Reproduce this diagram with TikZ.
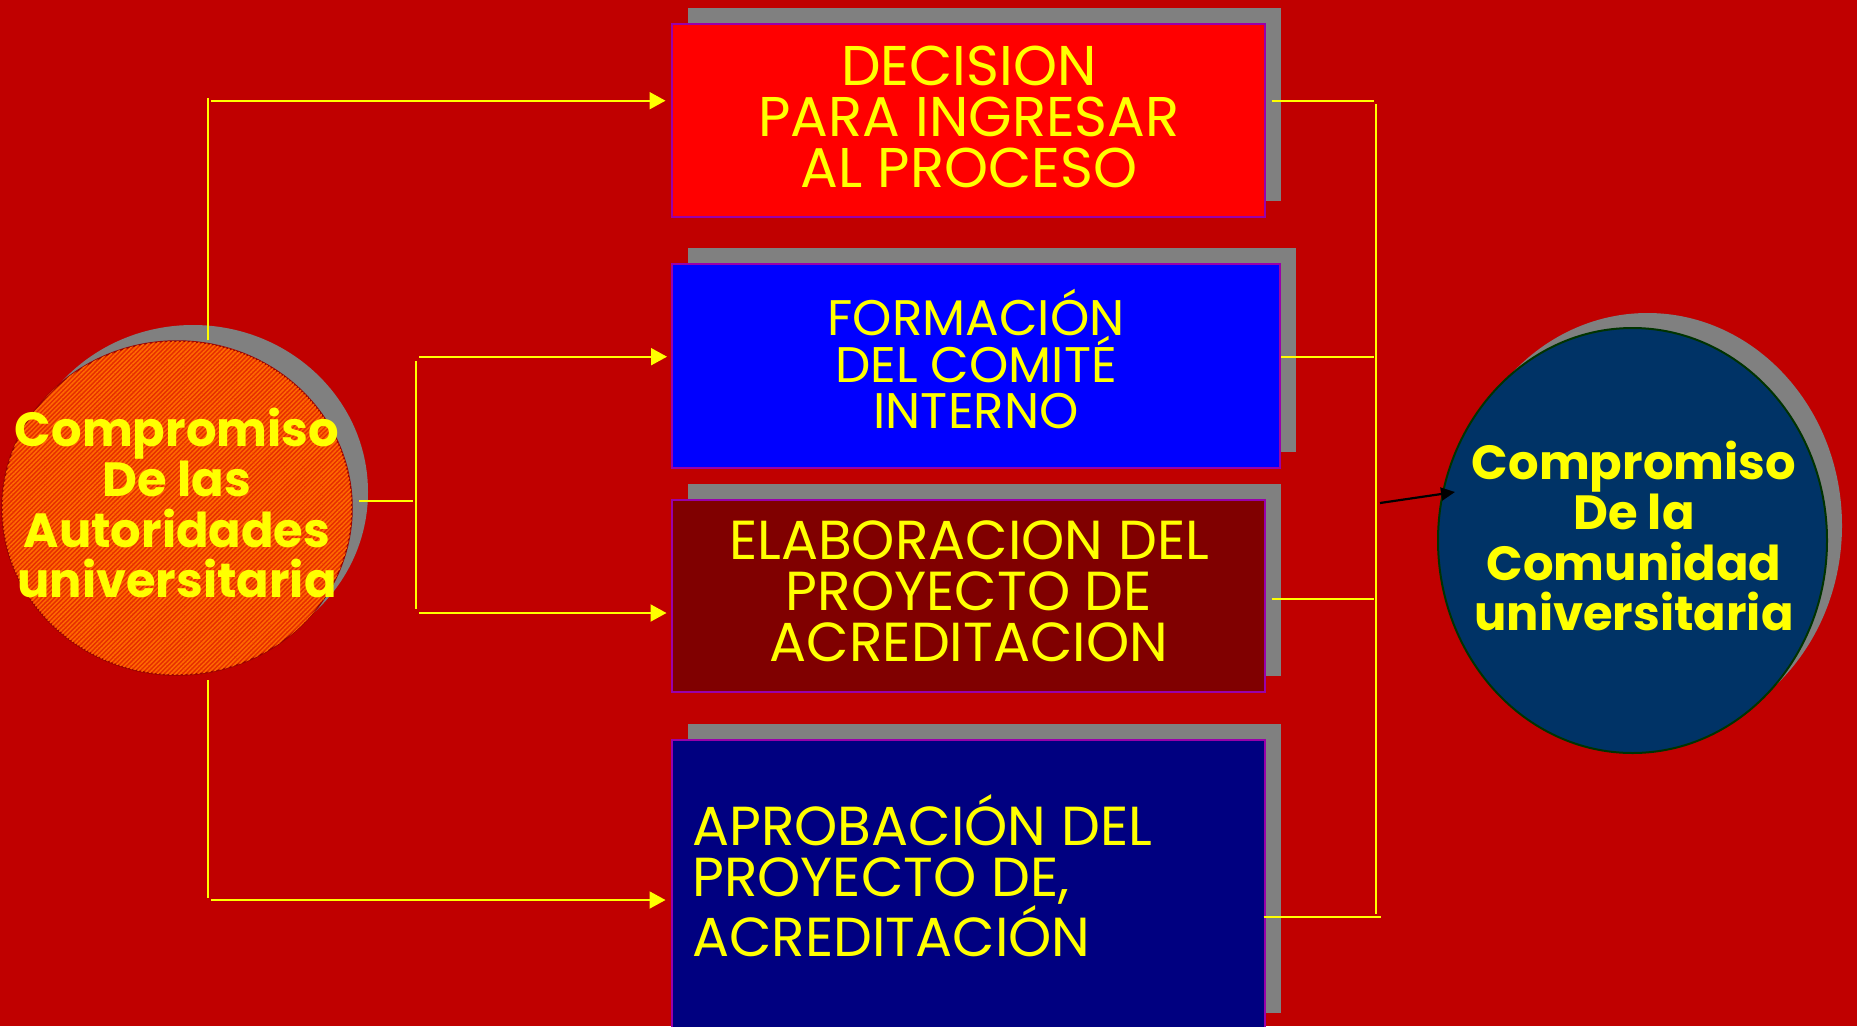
\documentclass[tikz,border=0pt]{standalone}
\usepackage{fontspec}
\setmainfont{Poppins}
\usetikzlibrary{arrows.meta,shadows,shapes.geometric,patterns.meta,calc}
\definecolor{bg}{HTML}{C00000}
\definecolor{shadowgray}{HTML}{808080}
\definecolor{ylw}{HTML}{FFFF00}
\definecolor{boxborder}{HTML}{9900AA}
\definecolor{boxA}{HTML}{FF0000}
\definecolor{boxB}{HTML}{0000FF}
\definecolor{boxC}{HTML}{800000}
\definecolor{boxD}{HTML}{000080}
\definecolor{lcirc}{HTML}{E62E00}
\definecolor{porange}{HTML}{FF6A00}
\definecolor{rcirc}{HTML}{003366}
\definecolor{rborder}{HTML}{003300}
\begin{document}
\begin{tikzpicture}[x=1pt,y=-1pt,
  stepbox/.style={rectangle, draw=boxborder, line width=2pt, inner sep=0pt,
    general shadow={fill=shadowgray, shadow xshift=16pt, shadow yshift=16pt}},
  boxtext/.style={text=ylw, align=center, inner sep=0pt,
    font=\fontsize{#1}{51}\selectfont},
  circtext/.style={text=ylw, align=center, inner sep=0pt,
    font=\bfseries\fontsize{48}{50.5}\selectfont},
  yline/.style={draw=ylw, line width=2pt},
  yarrow/.style={yline, -{Triangle[length=16pt,width=17pt]}},
  barrow/.style={draw=black, line width=2.2pt, -{Triangle[length=14pt,width=13pt]}}]
\fill[bg] (0,0) rectangle (1857,1026);
\useasboundingbox (0,0) rectangle (1857,1026);

% boxes
\node[stepbox, fill=boxA, minimum width=593pt, minimum height=193pt]
  (b1) at (968,120) {};
\node[boxtext=56] (t1) at (969,117) {DECISION\\PARA INGRESAR\\AL PROCESO};
\node[stepbox, fill=boxB, minimum width=608pt, minimum height=204pt]
  (b2) at (976,366) {};
\node[text=ylw, align=center, inner sep=0pt, font=\fontsize{50}{46}\selectfont]
  (t2) at (976,359) {FORMACIÓN\\DEL COMITÉ\\INTERNO};
\node[stepbox, fill=boxC, minimum width=593pt, minimum height=192pt]
  (b3) at (968,596) {};
\node[boxtext=55] (t3) at (969,591) {ELABORACION DEL\\PROYECTO DE\\ACREDITACION};
\node[stepbox, fill=boxD, minimum width=593pt, minimum height=289pt]
  (b4) at (968,884.5) {};
\node[text=ylw, align=left, anchor=west, inner sep=0pt,
  font=\fontsize{55}{51}\selectfont]
  (t4) at (692,876) {APROBACIÓN DEL\\PROYECTO DE,\\ACREDITACIÓN};

% circles
\node[ellipse, minimum width=350pt, minimum height=334pt, inner sep=0pt,
  draw=bg!80!black, line width=1.5pt, fill=lcirc,
  postaction={pattern={Lines[angle=45,distance=3.2pt,line width=1.5pt]}, pattern color=porange},
  general shadow={fill=shadowgray, shadow xshift=16pt, shadow yshift=16pt}]
  (L) at (177,508) {};
\node[circtext] (tL) at (177,503) {Compromiso\\De las\\Autoridades\\universitaria};
\node[ellipse, minimum width=389pt, minimum height=425pt, inner sep=0pt,
  draw=rborder, line width=2pt, fill=rcirc,
  general shadow={fill=shadowgray, shadow xshift=15pt, shadow yshift=15pt}]
  (R) at (1632.5,540.5) {};
\node[circtext] (tR) at (1634,536) {Compromiso\\De la\\Comunidad\\universitaria};

% left connectors
\coordinate (tl) at (208,98);
\coordinate (th) at (211,100.7);
\coordinate (bl) at (208,898);
\coordinate (bh) at (211,900);
\coordinate (m0) at (359,501);
\coordinate (m1) at (413,501);
\coordinate (mv) at (416,361);
\coordinate (mw) at (416,609);
\coordinate (mu) at (419,356.7);
\coordinate (md) at (419,613);

\draw[yline] (tl |- L.north) -- (tl);
\draw[yarrow, shorten >=5pt] (th) -- (th -| b1.west);
\draw[yline] (bl |- 0,680) -- (bl);
\draw[yarrow, shorten >=5pt] (bh) -- (bh -| b4.west);
\draw[yline] (m0) -- (m1);
\draw[yline] (mv) -- (mw);
\draw[yarrow, shorten >=4pt] (mu) -- (mu -| b2.west);
\draw[yarrow, shorten >=4pt] (md) -- (md -| b3.west);

% right connectors
\coordinate (rv1) at (1376,104);
\coordinate (rv2) at (1376,914);
\coordinate (r1) at (1374,100.7);
\coordinate (r2) at (1374,357);
\coordinate (r3) at (1374,599);
\coordinate (r4) at (1381,916.6);
\draw[yline] ([xshift=6pt]b1.east |- r1) -- (r1);
\draw[yline] (b2.east |- r2) -- (r2);
\draw[yline] ([xshift=6pt]b3.east |- r3) -- (r3);
\draw[yline] ([xshift=-2pt]b4.east |- r4) -- (r4);
\draw[yline] (rv1) -- (rv2);
\coordinate (ba) at (1380,503);
\coordinate (bt) at (1455,492);
\draw[barrow] (ba) -- (bt);
\end{tikzpicture}
\end{document}
